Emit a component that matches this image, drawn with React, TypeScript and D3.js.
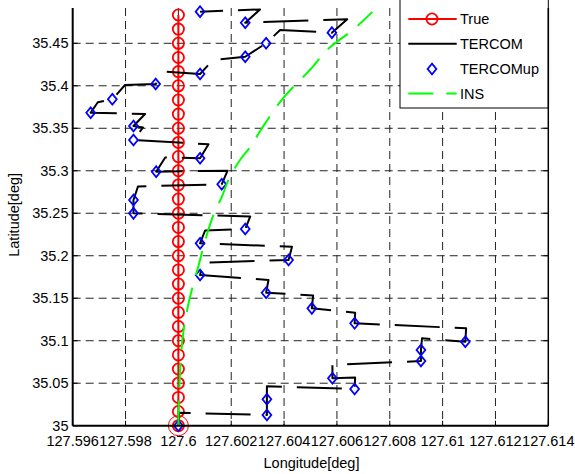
import * as d3 from "d3";

// ── Axis ticks ────────────────────────────────────────────
const xTicks = [127.596, 127.598, 127.6, 127.602, 127.604, 127.606, 127.608, 127.61, 127.612, 127.614];
const xTickLabels = ["127.596", "127.598", "127.6", "127.602", "127.604", "127.606", "127.608", "127.61", "127.612", "127.614"];
const yTicks = [35, 35.05, 35.1, 35.15, 35.2, 35.25, 35.3, 35.35, 35.4, 35.45];
const yTickLabels = ["35", "35.05", "35.1", "35.15", "35.2", "35.25", "35.3", "35.35", "35.4", "35.45"];

// ── True track (constant longitude) ───────────────────────
const TRUE_LON = 127.6;
const trueLat = [
  35, 35.0167, 35.0333, 35.05, 35.0667, 35.0833, 35.1, 35.1167, 35.1333, 35.15,
  35.1667, 35.1833, 35.2, 35.2167, 35.2333, 35.25, 35.2667, 35.2833, 35.3, 35.3167,
  35.3333, 35.35, 35.3667, 35.3833, 35.4, 35.4167, 35.4333, 35.45, 35.4667, 35.4833,
];

// ── TERCOM estimate path (top → bottom) ───────────────────
const tercomLon = [
  127.60082, 127.60309, 127.60253, 127.60639, 127.60581, 127.60385, 127.60332, 127.60253,
  127.60131, 127.60082, 127.59956, 127.59914, 127.59798, 127.5975, 127.59695, 127.59668,
  127.59874, 127.5983, 127.59866, 127.5983, 127.60114, 127.60082, 127.5995, 127.59916,
  127.60186, 127.60164, 127.59847, 127.5983, 127.5983, 127.60272, 127.60253, 127.60101,
  127.60082, 127.6043, 127.60417, 127.60094, 127.60082, 127.60341, 127.60332, 127.6051,
  127.60505, 127.60669, 127.60667, 127.61089, 127.61086, 127.60922, 127.60918, 127.60918,
  127.60583, 127.60583, 127.60669, 127.60667, 127.60335, 127.60335, 127.60335, 127.60003,
  127.6,
];
const tercomLat = [
  35.4872, 35.4898, 35.4742, 35.4782, 35.4625, 35.4656, 35.45, 35.4342,
  35.4303, 35.4139, 35.4166, 35.4021, 35.4009, 35.3841, 35.3806, 35.3683,
  35.3668, 35.3527, 35.3509, 35.3362, 35.3311, 35.3147, 35.3156, 35.2989,
  35.3001, 35.2841, 35.2815, 35.2656, 35.2499, 35.2462, 35.2315, 35.2297,
  35.2146, 35.2106, 35.195, 35.1918, 35.1773, 35.1715, 35.1565, 35.1532,
  35.1381, 35.133, 35.1205, 35.1146, 35.0988, 35.1028, 35.0891, 35.0761,
  35.0714, 35.0558, 35.0567, 35.0432, 35.0464, 35.0311, 35.0126, 35.0153,
  35,
];

// ── TERCOM update fixes ───────────────────────────────────
const upLon = [
  127.60082, 127.60253, 127.60581, 127.60332, 127.60253, 127.60082, 127.59914, 127.5975,
  127.59668, 127.5983, 127.5983, 127.60082, 127.59916, 127.60164, 127.5983, 127.5983,
  127.60253, 127.60082, 127.60417, 127.60082, 127.60332, 127.60505, 127.60667, 127.61086,
  127.60918, 127.60918, 127.60583, 127.60667, 127.60335, 127.60335, 127.6,
];
const upLat = [
  35.4872, 35.4742, 35.4625, 35.45, 35.4342, 35.4139, 35.4021, 35.3841,
  35.3683, 35.3527, 35.3362, 35.3147, 35.2989, 35.2841, 35.2656, 35.2499,
  35.2315, 35.2146, 35.195, 35.1773, 35.1565, 35.1381, 35.1205, 35.0988,
  35.0891, 35.0761, 35.0558, 35.0432, 35.0311, 35.0126, 35,
];

// ── INS drift ─────────────────────────────────────────────
const insLon = [
  127.6, 127.60002, 127.60005, 127.6001, 127.6002, 127.60037, 127.60056, 127.60075,
  127.60097, 127.60113, 127.60135, 127.60164, 127.60192, 127.60234, 127.60272, 127.60316,
  127.60398, 127.60505, 127.60562, 127.60669, 127.60734,
];
const insLat = [
  35, 35.03, 35.054, 35.083, 35.113, 35.142, 35.166, 35.187,
  35.213, 35.23, 35.25, 35.269, 35.291, 35.313, 35.328, 35.35,
  35.386, 35.421, 35.442, 35.468, 35.487,
];

// ── Layout ────────────────────────────────────────────────
const W = 575;
const H = 474;
const X0 = 72.7;
const X1 = 548.3;
const Y0 = 425.7;
const YTOP = 0.8;   // where 35.5 would sit
const VIS_TOP = 8;  // figure is cropped above this
const FONT = "'Liberation Sans', Arial, Helvetica, sans-serif";
const FS = 14.5;

const x = d3.scaleLinear().domain([127.596, 127.614]).range([X0, X1]);
const y = d3.scaleLinear().domain([35, 35.5]).range([Y0, YTOP]);

const DIAMOND = "M0,-5.4L4.4,0L0,5.4L-4.4,0Z";

const line = d3.line<[number, number]>()
  .x(d => x(d[0]))
  .y(d => y(d[1]));

const insLine = d3.line<[number, number]>()
  .x(d => x(d[0]))
  .y(d => y(d[1]))
  .curve(d3.curveCatmullRom);

export default function App() {
  const truePts = trueLat.map(la => [TRUE_LON, la] as [number, number]);
  const tercomPts = d3.zip(tercomLon, tercomLat) as [number, number][];
  const upPts = d3.zip(upLon, upLat) as [number, number][];
  const insPts = d3.zip(insLon, insLat) as [number, number][];

  const legendItems = [
    { label: "True", y: 19 },
    { label: "TERCOM", y: 43.7 },
    { label: "TERCOMup", y: 69 },
    { label: "INS", y: 93.5 },
  ];
  const LX0 = 408.3, LX1 = 456.7, LMX = 432;

  return (
    <svg width={W} height={H} viewBox={`0 0 ${W} ${H}`}
      style={{ position: "absolute", left: 0, top: 0, background: "#fff", display: "block" }}
      fontFamily={FONT}>
      <rect x={0} y={0} width={W} height={H} fill="#fff" />

      {/* grid */}
      {xTicks.slice(1, -1).map(t => (
        <line key={"gx" + t} x1={x(t)} x2={x(t)} y1={VIS_TOP} y2={Y0}
          stroke="#222" strokeWidth={1} strokeDasharray="8 5" />
      ))}
      {yTicks.slice(1).map(t => (
        <line key={"gy" + t} x1={X0} x2={X1} y1={y(t)} y2={y(t)}
          stroke="#222" strokeWidth={1} strokeDasharray="8 5" />
      ))}

      {/* tick marks */}
      {xTicks.map(t => (
        <line key={"tx" + t} x1={x(t)} x2={x(t)} y1={Y0} y2={Y0 - 5} stroke="#000" strokeWidth={1} />
      ))}
      {yTicks.map(t => (
        <g key={"ty" + t}>
          <line x1={X0} x2={X0 + 5} y1={y(t)} y2={y(t)} stroke="#000" strokeWidth={1} />
          <line x1={X1} x2={X1 - 5} y1={y(t)} y2={y(t)} stroke="#000" strokeWidth={1} />
        </g>
      ))}

      {/* True */}
      <path d={line(truePts) ?? ""} fill="none" stroke="#ff0000" strokeWidth={2} />
      {truePts.map((p, i) => (
        <circle key={"tc" + i} cx={x(p[0])} cy={y(p[1])} r={5.6}
          fill="none" stroke="#ff0000" strokeWidth={1.8} />
      ))}
      <circle cx={x(TRUE_LON)} cy={y(trueLat[0])} r={10} fill="none" stroke="#ff0000" strokeWidth={1} />

      {/* TERCOM */}
      <path d={line(tercomPts) ?? ""} fill="none" stroke="#000" strokeWidth={2}
        strokeDasharray="45 15" strokeDashoffset={22} strokeLinejoin="round" />

      {/* TERCOMup */}
      {upPts.map((p, i) => (
        <path key={"up" + i} d={DIAMOND} transform={`translate(${x(p[0])},${y(p[1])})`}
          fill="none" stroke="#0000ff" strokeWidth={1.8} />
      ))}

      {/* INS */}
      <path d={insLine(insPts) ?? ""} fill="none" stroke="#00ff00" strokeWidth={2}
        strokeDasharray="25 13" />

      {/* axes frame */}
      <line x1={X0} x2={X0} y1={VIS_TOP} y2={Y0} stroke="#000" strokeWidth={2} />
      <line x1={X1} x2={X1} y1={VIS_TOP} y2={Y0} stroke="#000" strokeWidth={1.5} />
      <line x1={X0} x2={X1} y1={Y0} y2={Y0} stroke="#000" strokeWidth={2} />

      {/* tick labels */}
      {xTicks.map((t, i) => (
        <text key={"lx" + t} x={x(t)} y={445.5} textAnchor="middle" fontSize={FS} fill="#000">
          {xTickLabels[i]}
        </text>
      ))}
      {yTicks.map((t, i) => (
        <text key={"ly" + t} x={68.5} y={y(t)} textAnchor="end" dominantBaseline="central"
          fontSize={FS} fill="#000">
          {yTickLabels[i]}
        </text>
      ))}

      {/* axis titles */}
      <text x={(X0 + X1) / 2 + 1} y={468} textAnchor="middle" fontSize={FS} fill="#000">
        Longitude[deg]
      </text>
      <text transform={`translate(19, ${(VIS_TOP + Y0) / 2 - 2}) rotate(-90)`}
        textAnchor="middle" fontSize={FS} fill="#000">
        Latitude[deg]
      </text>

      {/* legend */}
      <rect x={400} y={-3} width={X1 - 400} height={111} fill="#fff" stroke="#000" strokeWidth={1} />
      {legendItems.map((it, i) => (
        <g key={it.label}>
          {i === 0 && (
            <>
              <line x1={LX0} x2={LX1} y1={it.y} y2={it.y} stroke="#ff0000" strokeWidth={2} />
              <circle cx={LMX} cy={it.y} r={5.6} fill="none" stroke="#ff0000" strokeWidth={1.8} />
            </>
          )}
          {i === 1 && (
            <line x1={LX0} x2={LX1} y1={it.y} y2={it.y} stroke="#000" strokeWidth={2} />
          )}
          {i === 2 && (
            <path d={DIAMOND} transform={`translate(${LMX},${it.y})`} fill="none"
              stroke="#0000ff" strokeWidth={1.8} />
          )}
          {i === 3 && (
            <line x1={LX0} x2={LX1} y1={it.y} y2={it.y} stroke="#00ff00" strokeWidth={2}
              strokeDasharray="25 13" />
          )}
          <text x={460} y={it.y} dominantBaseline="central" fontSize={FS} fill="#000">
            {it.label}
          </text>
        </g>
      ))}
      <line x1={X1} x2={X1} y1={VIS_TOP} y2={108} stroke="#000" strokeWidth={1.5} />
    </svg>
  );
}
